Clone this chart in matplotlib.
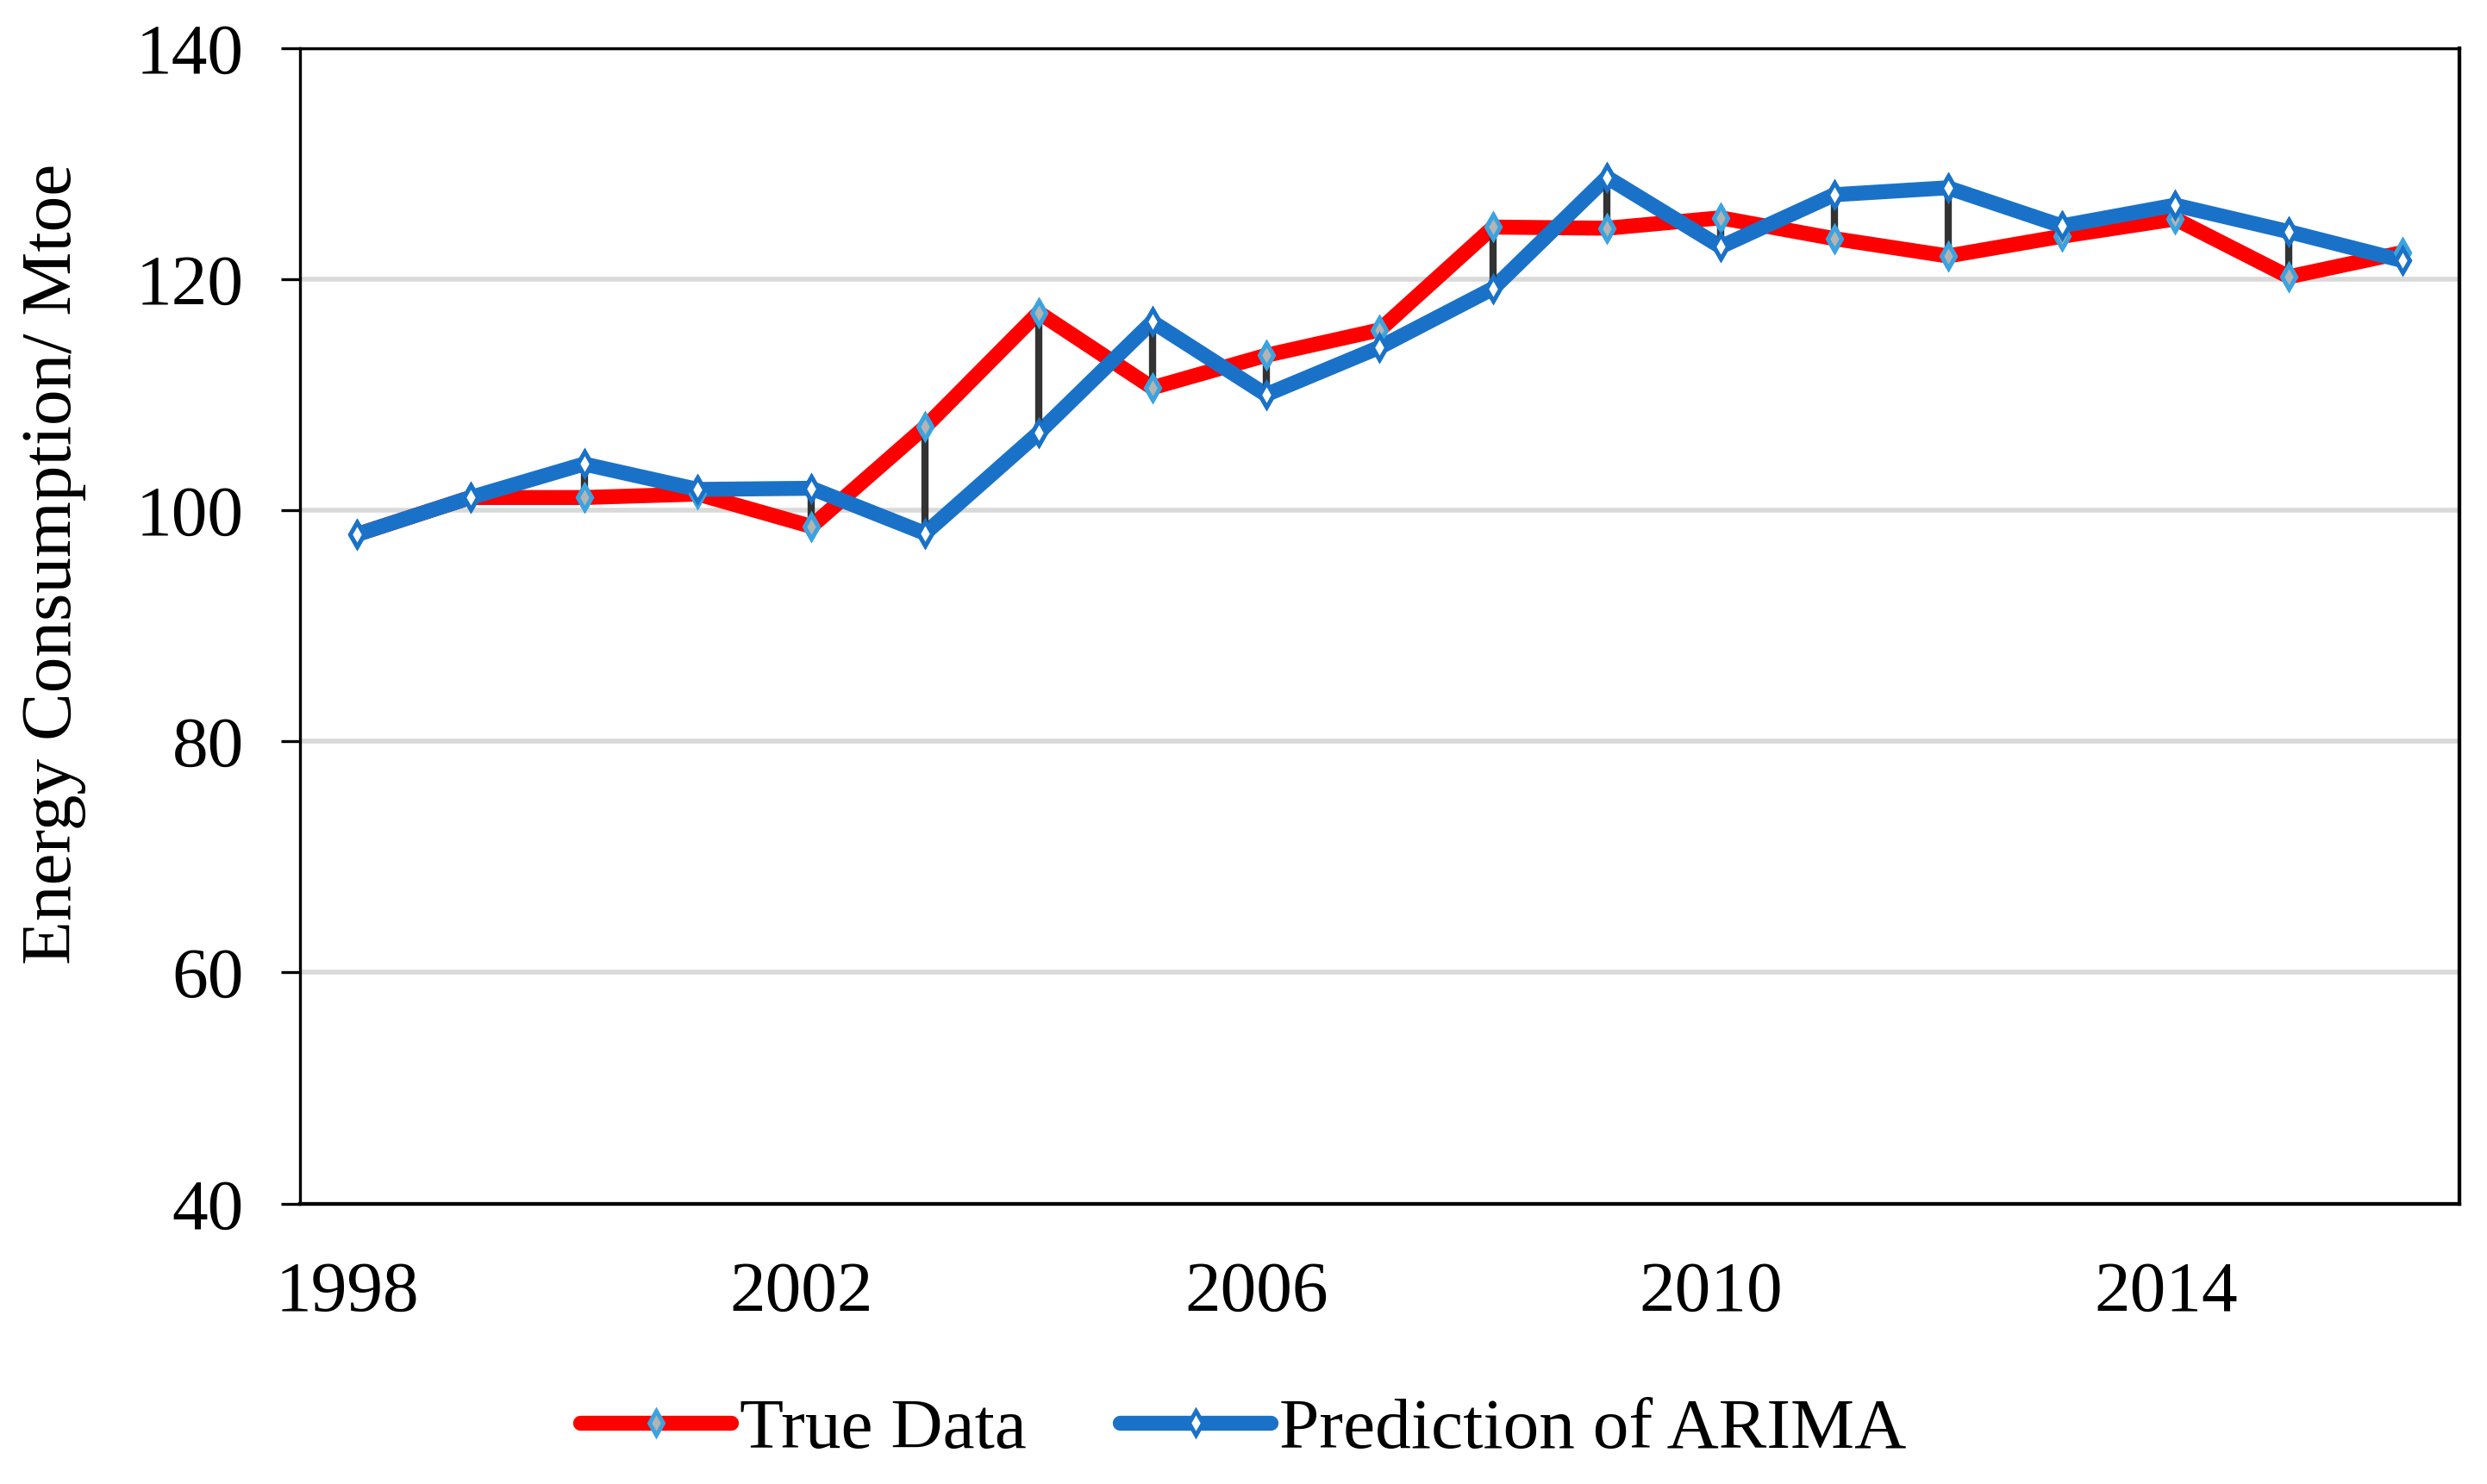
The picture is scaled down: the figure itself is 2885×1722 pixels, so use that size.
import matplotlib
matplotlib.use("Agg")
import matplotlib.pyplot as plt
import matplotlib.transforms as mtransforms
import numpy as np

plt.rcParams['font.family'] = ['Liberation Serif', 'DejaVu Serif']

# data
years = list(range(1998, 2017))
true_data = [97.9, 101.1, 101.1, 101.4, 98.6, 107.2, 117.1, 110.6, 113.4, 115.6,
             124.5, 124.4, 125.3, 123.5, 122.0, 123.7, 125.2, 120.2, 122.3]
arima_pred = [97.9, 101.1, 104.0, 101.8, 101.9, 98.0, 106.7, 116.3, 110.0, 114.1,
              119.2, 128.8, 122.8, 127.3, 127.9, 124.6, 126.4, 124.1, 121.6]
xtick_years = [1998, 2002, 2006, 2010, 2014]
yticks = [40, 60, 80, 100, 120, 140]

red = '#FF0000'
blue = '#1A72C8'
light_blue = '#3BA3DF'

fig = plt.figure(figsize=(28.85, 17.22), dpi=100)
ax = fig.add_axes([0.1206, 0.1889, 0.8683, 0.7788])

x = np.arange(len(years))

# gridlines
for v in yticks[1:]:
    ax.axhline(v, color='#D9D9D9', lw=4, zorder=1)

ms = 14
ax.plot(x, true_data, color=red, lw=12.5, solid_joinstyle='round',
        solid_capstyle='round', zorder=2, label='True Data',
        marker='d', markersize=ms, markeredgewidth=3.5,
        markeredgecolor=light_blue, markerfacecolor='#B4B4B4')
ax.plot(x, arima_pred, color=blue, lw=12.5, solid_joinstyle='round',
        solid_capstyle='round', zorder=3, label='Prediction of ARIMA',
        marker='d', markersize=ms, markeredgewidth=3.5,
        markeredgecolor=blue, markerfacecolor='white')

# high-low lines between the two series
lo = np.minimum(true_data, arima_pred)
hi = np.maximum(true_data, arima_pred)
ax.vlines(x, lo, hi, color='#333333', lw=6, zorder=4)

# redraw markers on top of the connector lines
ax.plot(x, true_data, ls='none', marker='d', markersize=ms, markeredgewidth=3.5,
        markeredgecolor=light_blue, markerfacecolor='#B4B4B4', zorder=5)
ax.plot(x, arima_pred, ls='none', marker='d', markersize=ms, markeredgewidth=3.5,
        markeredgecolor=blue, markerfacecolor='white', zorder=5)

ax.set_xlim(-0.5, len(years) - 0.5)
ax.set_ylim(40, 140)
ax.set_yticks(yticks)
ax.set_xticks([years.index(y) for y in xtick_years])
ax.set_xticklabels([str(y) for y in xtick_years])

ax.tick_params(axis='y', direction='out', length=16, width=2.4, pad=31,
               labelsize=60)
ax.tick_params(axis='x', length=0, pad=48, labelsize=60)

# nudge x labels slightly left like the original
shift = mtransforms.ScaledTranslation(-8 / 72, 0, fig.dpi_scale_trans)
for lbl in ax.get_xticklabels():
    lbl.set_transform(lbl.get_transform() + shift)

for side in ['left', 'top']:
    ax.spines[side].set_linewidth(2.4)
for side in ['right', 'bottom']:
    ax.spines[side].set_linewidth(3.1)

fig.text(0.0215, 0.620, 'Energy Consumption/ Mtoe', rotation=90,
         ha='center', va='center', fontsize=60)

fig.legend(loc='center', bbox_to_anchor=(0.5, 0.036), ncol=2, frameon=False,
           fontsize=60, handlelength=2.1, handletextpad=0.12,
           columnspacing=1.3, borderpad=0, borderaxespad=0)

fig.savefig('out.png', dpi=100)
